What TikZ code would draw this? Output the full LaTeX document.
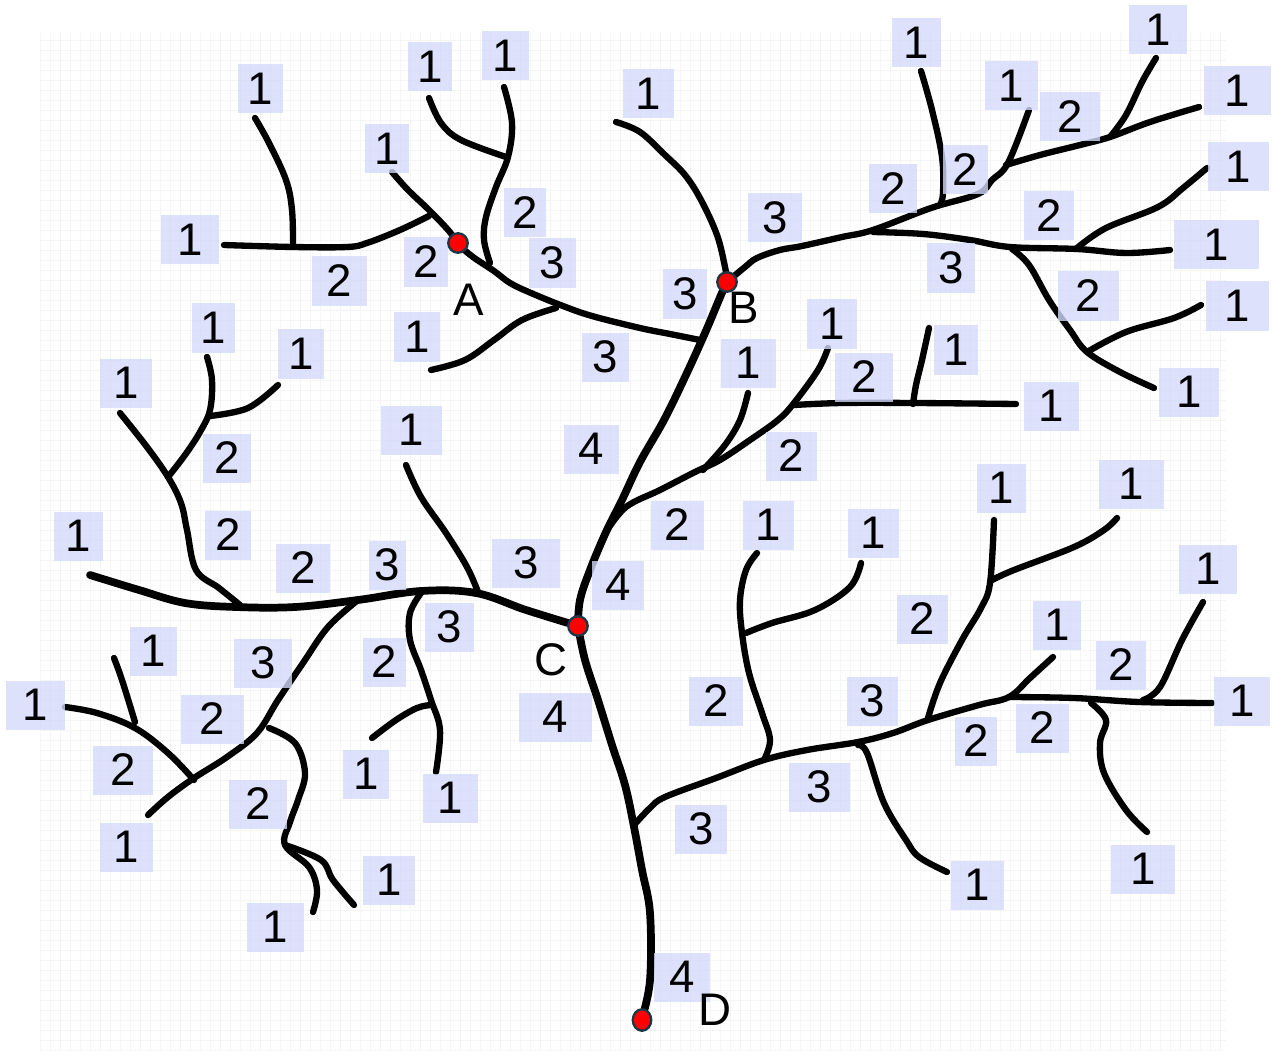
\documentclass[tikz,border=0pt]{standalone}
\usepackage{fontspec}
\setmainfont{Liberation Sans}
\usetikzlibrary{shapes.geometric}
\definecolor{lav}{RGB}{212,218,250}
\definecolor{dotrim}{RGB}{25,55,70}
\tikzset{
  stream/.style={line width=3.6pt, line cap=round, line join=round},
  trunk/.style={stream, line width=4.4pt},
  ord/.style={fill=lav, fill opacity=0.8, text opacity=1, inner sep=0pt,
    minimum height=9.8mm, minimum width=#1*0.2mm, font=\fontsize{26}{26}\selectfont},
  outlet/.style={circle, fill=red, draw=dotrim, line width=1.3pt, minimum size=3.9mm, inner sep=0pt},
  letter/.style={font=\fontsize{26}{26}\selectfont, inner sep=0pt}
}
\begin{document}
\begin{tikzpicture}[x=0.2mm, y=-0.2mm]
\useasboundingbox (0,0) rectangle (1275,1051);
% faint grid paper
\draw[black!4, line width=0.3pt, step=2mm] (40,32) grid (1226,1051);

% A basin
\draw[stream] plot[smooth, tension=0.6] coordinates {(255,118) (269,143) (286,180) (292,210) (293,247)};
\draw[stream] plot[smooth, tension=0.6] coordinates {(224,245) (293,247) (347,247) (367,243) (400,230) (429,216)};
\draw[stream] plot[smooth, tension=0.6] coordinates {(392,172) (408,190) (429,210) (449,231) (458,244) (473,257) (494,271) (510,283) (531,293) (563,306) (592,316) (640,328) (670,334) (700,340)};
\draw[stream] plot[smooth, tension=0.6] coordinates {(429,98) (441,123) (461,140) (506,157)};
\draw[stream] plot[smooth, tension=0.6] coordinates {(504,87) (512,123) (508,157) (496,187) (486,217) (484,240) (490,263)};
\draw[stream] plot[smooth, tension=0.6] coordinates {(431,370) (465,360) (494,340) (522,320) (556,308)};

% B basin
\draw[stream] plot[smooth, tension=0.6] coordinates {(616,122) (640,132) (665,155) (685,175) (701,200) (717,235) (725,267) (727,282)};
\draw[stream] plot[smooth, tension=0.6] coordinates {(727,282) (745,267) (757,258) (780,250) (802,246) (842,237) (873,230) (931,208) (978,194) (992,180) (1008,163) (1029,110)};
\draw[stream] plot[smooth, tension=0.6] coordinates {(921,71) (932,110) (942,157) (943,193) (940,205)};
\draw[stream] plot[smooth, tension=0.6] coordinates {(1006,165) (1040,155) (1080,145) (1110,137) (1150,122) (1199,107)};
\draw[stream] plot[smooth, tension=0.6] coordinates {(1110,137) (1126,115) (1142,82) (1156,58)};
\draw[stream] plot[smooth, tension=0.6] coordinates {(873,232) (923,234) (970,240) (1010,247) (1077,249) (1126,253) (1170,250)};
\draw[stream] plot[smooth, tension=0.6] coordinates {(1077,248) (1106,228) (1158,207) (1183,188) (1207,168)};
\draw[stream] plot[smooth, tension=0.6] coordinates {(1012,249) (1029,265) (1049,300) (1070,330) (1087,352) (1120,372) (1154,388)};
\draw[stream] plot[smooth, tension=0.6] coordinates {(1087,352) (1126,332) (1174,318) (1201,305)};

% trunk B to C and its side streams
\draw[trunk] plot[smooth, tension=0.6] coordinates {(727,282) (721,295) (705,333) (685,377) (664,420) (640,462) (622,500) (606,532) (590,570) (580,600) (578,626)};
\draw[stream] plot[smooth, tension=0.6] coordinates {(828,348) (818,370) (794,403) (778,420) (750,440) (720,460) (695,472) (660,490) (626,507) (606,532)};
\draw[stream] plot[smooth, tension=0.6] coordinates {(748,393) (740,420) (725,445) (703,470)};
\draw[stream] plot[smooth, tension=0.6] coordinates {(794,405) (842,403) (915,403) (1016,404)};
\draw[stream] plot[smooth, tension=0.6] coordinates {(929,328) (922,360) (916,385) (913,404)};

% C basin
\draw[trunk] plot[smooth, tension=0.6] coordinates {(578,626) (526,610) (476,593) (421,591) (358,600) (295,607) (236,607) (185,603) (139,590) (90,575)};
\draw[stream] plot[smooth, tension=0.6] coordinates {(406,465) (421,497) (446,533) (467,567) (478,592)};
\draw[stream] plot[smooth, tension=0.6] coordinates {(120,413) (147,447) (168,477) (181,503) (187,530) (196,570) (219,588) (240,605)};
\draw[stream] plot[smooth, tension=0.6] coordinates {(207,357) (212,380) (210,410) (200,432) (185,455) (168,477)};
\draw[stream] plot[smooth, tension=0.6] coordinates {(210,416) (248,408) (278,385)};
\draw[stream] plot[smooth, tension=0.6] coordinates {(358,600) (328,627) (303,663) (278,700) (257,733) (227,757) (194,778) (168,797) (148,815)};
\draw[stream] plot[smooth, tension=0.6] coordinates {(65,707) (97,713) (135,728) (168,753) (194,780)};
\draw[stream] plot[smooth, tension=0.6] coordinates {(114,658) (122,680) (135,722)};
\draw[stream] plot[smooth, tension=0.6] coordinates {(269,728) (295,743) (305,773) (298,800) (290,822) (285,845) (309,867) (317,890) (313,912)};
\draw[stream] plot[smooth, tension=0.6] coordinates {(285,845) (321,860) (333,880) (354,905)};
\draw[stream] plot[smooth, tension=0.6] coordinates {(421,593) (410,613) (410,640) (421,670) (431,700) (440,730) (436,772)};
\draw[stream] plot[smooth, tension=0.6] coordinates {(431,705) (417,708) (396,720) (372,738)};

% trunk C to D
\draw[trunk] plot[smooth, tension=0.6] coordinates {(578,626) (585,660) (598,700) (612,745) (625,785) (634,827) (642,870) (650,913) (650,980) (642,1018)};

% lower right basin
\draw[stream] plot[smooth, tension=0.6] coordinates {(634,825) (650,808) (665,797) (716,778) (764,760) (807,750) (858,742) (893,733) (928,720) (979,705) (1009,697) (1030,678) (1053,657)};
\draw[stream] plot[smooth, tension=0.6] coordinates {(1009,697) (1074,698) (1139,702) (1212,703)};
\draw[stream] plot[smooth, tension=0.6] coordinates {(1143,700) (1160,687) (1182,640) (1203,602)};
\draw[stream] plot[smooth, tension=0.6] coordinates {(1091,703) (1106,720) (1100,743) (1104,773) (1126,810) (1147,832)};
\draw[stream] plot[smooth, tension=0.6] coordinates {(928,718) (940,683) (962,640) (981,608) (990,583) (994,520)};
\draw[stream] plot[smooth, tension=0.6] coordinates {(992,580) (1014,570) (1074,547) (1104,530) (1117,518)};
\draw[stream] plot[smooth, tension=0.6] coordinates {(764,760) (770,740) (762,713) (749,673) (742,633) (740,600) (746,570) (757,553)};
\draw[stream] plot[smooth, tension=0.6] coordinates {(746,633) (772,623) (815,610) (850,587) (861,563)};
\draw[stream] plot[smooth, tension=0.6] coordinates {(858,745) (867,753) (884,803) (906,840) (919,857) (947,872)};

% stream order labels: x/y/order/box width
\foreach \x/\y/\t/\w [count=\i] in {
  260/89/1/45, 430/67/1/44, 505/56/1/47, 387/149/1/44, 190/240/1/58,
  339/281/2/55, 426/262/2/44, 525/213/2/42, 552/263/3/47, 417/337/1/46,
  605/357/3/47, 213/328/1/43, 301/354/1/46, 126/383/1/52, 648/94/1/51,
  916/43/1/49, 1011/86/1/53, 1070/117/2/60, 1158/30/1/58, 1237/91/1/67,
  893/189/2/48, 965/170/2/45, 775/218/3/54, 685/294/3/44, 1049/216/2/50,
  1238/167/1/61, 1216/245/1/85, 951/268/3/48, 1088/296/2/61, 1237/306/1/63,
  1189/392/1/60, 832/324/1/50, 956/350/1/44, 864/377/2/58, 748/363/1/55,
  1051/406/1/55, 411/430/1/61, 227/458/2/48, 228/535/2/46, 78/536/1/49,
  303/568/2/54, 387/565/3/37, 526/563/3/68, 591/449/4/55, 618/585/4/52,
  449/627/3/49, 153/651/1/47, 263/663/3/58, 384/662/2/43, 555/717/4/73,
  35/705/1/59, 212/719/2/63, 123/770/2/60, 366/774/1/46, 450/798/1/55,
  258/804/2/58, 791/456/2/51, 677/525/2/53, 768/525/1/51, 873/533/1/51,
  1001/488/1/49, 1131/484/1/65, 922/619/2/51, 1057/625/1/48, 1208/569/1/58,
  716/701/2/54, 872/701/3/51, 1121/665/2/50, 1242/701/1/56, 976/741/2/42,
  1042/728/2/53, 819/787/3/61, 701/829/3/52, 126/847/1/53, 389/880/1/52,
  275/927/1/57, 977/885/1/53, 1143/869/1/64, 682/977/4/56}
  \node[ord=\w] (lab\i) at (\x,\y) {\t};

% junction points
\node[outlet] (A) at (458,243) {};
\node[outlet] (B) at (727,282) {};
\node[outlet] (C) at (578,626) {};
\node[outlet, ellipse, minimum width=3.7mm, minimum height=4.3mm] (D) at (642,1020) {};
\node[letter] (nameA) at (469,300) {A};
\node[letter] (nameB) at (744,308) {B};
\node[letter] (nameC) at (551,660) {C};
\node[letter] (nameD) at (715,1010) {D};
\end{tikzpicture}
\end{document}
